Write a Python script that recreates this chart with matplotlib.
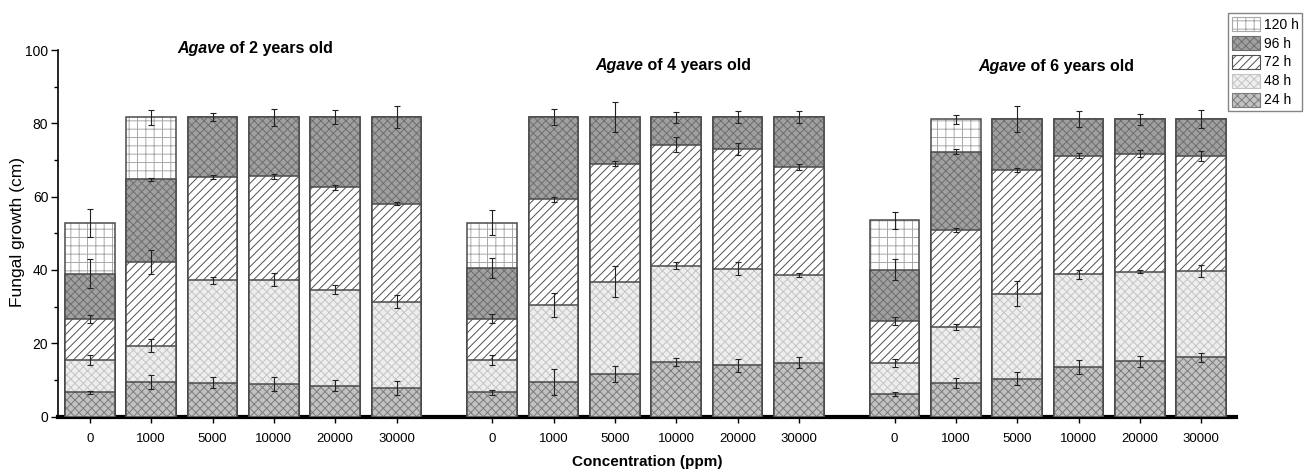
import numpy as np
import matplotlib
matplotlib.use("Agg")
import matplotlib.pyplot as plt
from matplotlib.patches import Patch

plt.rcParams['font.family'] = ['Liberation Sans', 'DejaVu Sans']
plt.rcParams['hatch.linewidth'] = 0.7

# data (growth in cm at each time, overlapped bars)
conc_labels = ['0', '1000', '5000', '10000', '20000', '30000']
group_titles = ['of 2 years old', 'of 4 years old', 'of 6 years old']
times = ['24 h', '48 h', '72 h', '96 h', '120 h']

h24 = [6.6, 9.4, 9.2, 8.8, 8.4, 7.7,
       6.6, 9.4, 11.6, 14.9, 14.0, 14.7,
       6.1, 9.2, 10.3, 13.6, 15.1, 16.2]
h48 = [15.4, 19.4, 37.2, 37.4, 34.6, 31.4,
       15.4, 30.4, 36.8, 41.2, 40.3, 38.6,
       14.7, 24.5, 33.5, 38.8, 39.5, 39.7]
h72 = [26.7, 42.1, 65.4, 65.5, 62.6, 58.1,
       26.7, 59.3, 69.0, 74.2, 73.0, 68.1,
       26.2, 50.9, 67.2, 71.2, 71.7, 71.0]
h96 = [39.0, 64.7, 81.7, 81.7, 81.7, 81.7,
       40.6, 81.7, 81.7, 81.7, 81.7, 81.7,
       40.1, 72.2, 81.1, 81.1, 81.1, 81.1]
h120 = [52.9, 81.6, 81.7, 81.7, 81.7, 81.7,
        52.9, 81.7, 81.7, 81.7, 81.7, 81.7,
        53.5, 81.1, 81.1, 81.1, 81.1, 81.1]

e24 = [0.5, 1.9, 1.5, 1.9, 1.5, 1.9,
       0.6, 3.5, 2.2, 1.0, 1.8, 1.5,
       0.6, 1.3, 1.8, 1.9, 1.5, 1.2]
e48 = [1.3, 1.7, 1.0, 1.9, 1.2, 1.8,
       1.3, 3.2, 4.2, 1.0, 1.8, 0.6,
       1.1, 0.9, 3.4, 1.2, 0.4, 1.7]
e72 = [1.1, 3.3, 0.5, 0.7, 0.7, 0.4,
       1.2, 0.7, 0.6, 2.0, 1.6, 0.9,
       1.1, 0.5, 0.5, 0.7, 1.0, 1.4]
e96 = [4.0, 0.5, 1.1, 2.3, 2.0, 3.0,
       2.8, 2.2, 4.0, 1.5, 1.6, 1.7,
       2.8, 0.7, 3.5, 2.2, 1.5, 2.5]
e120 = [3.8, 2.0, 0, 0, 0, 0,
        3.4, 0, 0, 0, 0, 0,
        2.4, 1.3, 0, 0, 0, 0]

# styles: (face, hatch, hatch color)
styles = {
    '120 h': ('white', '++', '#a8a8a8'),
    '96 h': ('#a0a0a0', 'xxxx', '#6e6e6e'),
    '72 h': ('white', '////', '#505050'),
    '48 h': ('#eeeeee', 'xxxx', '#c4c4c4'),
    '24 h': ('#c2c2c2', 'xxxx', '#7c7c7c'),
}

gap = 6.56
x = np.concatenate([g * gap + np.arange(6) for g in range(3)])
width = 0.81

fig = plt.figure(figsize=(13.04, 4.74), dpi=100)
ax = fig.add_axes([0.0445, 0.121, 0.9035, 0.7735])

series = [('120 h', h120, e120), ('96 h', h96, e96), ('72 h', h72, e72),
          ('48 h', h48, e48), ('24 h', h24, e24)]

for z, (name, vals, errs) in enumerate(series):
    face, hatch, hc = styles[name]
    ax.bar(x, vals, width, color=face, hatch=hatch, edgecolor=hc,
           linewidth=0, zorder=2 + z)
    ax.bar(x, vals, width, fill=False, edgecolor='#4a4a4a',
           linewidth=1.1, zorder=2 + z)
    vals = np.array(vals)
    errs = np.array(errs)
    m = errs > 0
    ax.errorbar(x[m], vals[m], yerr=errs[m], fmt='none', ecolor='#222222',
                elinewidth=0.8, capsize=2.5, capthick=0.8, zorder=20)

ax.set_xlim(-0.52, 18.69)
ax.set_ylim(0, 100)
ax.set_xticks(x)
ax.set_xticklabels(conc_labels * 3, fontsize=9.5)
ax.set_yticks([0, 20, 40, 60, 80, 100])
ax.set_yticks([10, 30, 50, 70, 90], minor=True)
ax.tick_params(axis='y', labelsize=10, length=5, width=1, pad=2)
ax.tick_params(axis='y', which='minor', length=3, width=1)
ax.tick_params(axis='x', length=4, width=1, pad=8)

ax.spines['top'].set_visible(False)
ax.spines['right'].set_visible(False)
ax.spines['bottom'].set_linewidth(3)
ax.spines['left'].set_linewidth(1.2)

fig.text(18 / 1304, 0.51, 'Fungal growth (cm)', rotation=90, ha='center',
         va='center', fontsize=12.5)
ax.set_xlabel('Concentration (ppm)', fontsize=11, fontweight='bold', labelpad=7)

title_pos = [(2.2, 100.3), (9.02, 95.9), (15.27, 95.6)]
for (tx, ty), t in zip(title_pos, group_titles):
    ax.text(tx, ty, 'Agave', ha='right', va='center', fontsize=11.5,
            fontweight='bold', style='italic', clip_on=False)
    ax.text(tx, ty, ' ' + t, ha='left', va='center', fontsize=11.5,
            fontweight='bold', clip_on=False)

handles = []
for name in ['120 h', '96 h', '72 h', '48 h', '24 h']:
    face, hatch, hc = styles[name]
    handles.append(Patch(facecolor=face, hatch=hatch, edgecolor=hc, linewidth=0.8,
                         label=name))
leg = fig.legend(handles=handles, loc='upper right', bbox_to_anchor=(0.9985, 0.972),
                 fontsize=10, frameon=True, fancybox=False, edgecolor='#666666',
                 handlelength=2.0, handleheight=1.2, handletextpad=0.3,
                 labelspacing=0.3, borderpad=0.25, borderaxespad=0)
leg.get_frame().set_linewidth(1.0)

fig.savefig('out.png', dpi=100)
